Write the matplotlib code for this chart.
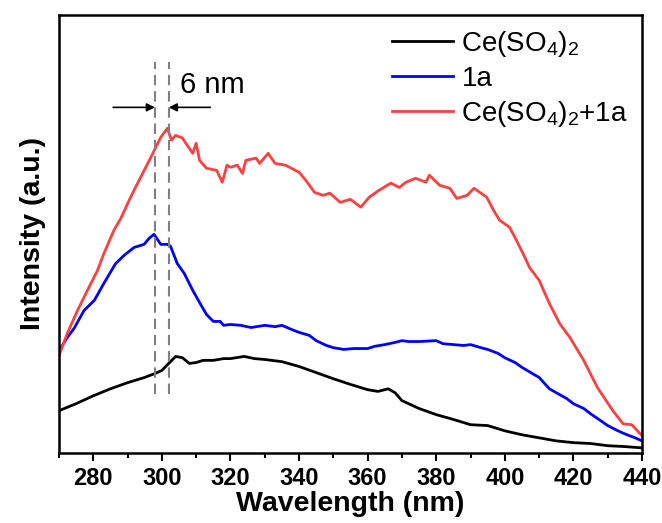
import numpy as np
import matplotlib
matplotlib.use('Agg')
import matplotlib.pyplot as plt

plt.rcParams['font.family'] = ['Liberation Sans', 'DejaVu Sans']
plt.rcParams['mathtext.fontset'] = 'custom'
plt.rcParams['mathtext.rm'] = 'Liberation Sans'
plt.rcParams['mathtext.it'] = 'Liberation Sans:italic'
plt.rcParams['mathtext.bf'] = 'Liberation Sans:bold'

# Emission spectra (intensity in arbitrary units)
wl_ce = [270, 275, 280, 285, 290, 295, 298, 300, 302, 304, 306, 308, 310, 312, 315, 318, 320, 324,
         327, 330, 335, 340, 345, 350, 355, 360, 363, 366, 368, 370, 375, 380, 385, 390, 395, 400,
         405, 410, 415, 420, 425, 430, 435, 440]
int_ce = [9.6, 11.2, 13.0, 14.6, 16.0, 17.2, 18.1, 18.8, 20.4, 22.0, 21.7, 20.4, 20.6, 21.1, 21.1,
          21.5, 21.5, 22.0, 21.5, 21.3, 20.8, 19.7, 18.3, 16.9, 15.6, 14.4, 14.0, 14.6, 13.7, 11.9,
          10.1, 8.7, 7.6, 6.4, 6.2, 5.0, 4.1, 3.4, 2.7, 2.3, 2.1, 1.6, 1.4, 1.1]

wl_1a = [270, 272.4, 274.4, 277.3, 280.3, 283.1, 286.5, 289, 291.9, 294.8, 296.3, 297.7, 299.7,
         301.6, 302.5, 304.5, 306.5, 309, 311, 313, 315, 317, 318, 320, 323, 326, 330, 333, 335,
         338, 340, 343, 345, 348, 350, 353, 356, 360, 362, 365, 368, 370, 372, 375, 380, 382, 385,
         388, 390, 393, 395, 398, 400, 403, 405, 408, 410, 413, 415, 418, 420, 423, 425, 428, 430,
         433, 435, 438, 440]
int_1a = [23.3, 26.3, 28.4, 32.5, 34.8, 38.7, 43.2, 45.1, 46.9, 47.6, 49.0, 49.9, 47.6, 47.6, 47.2,
          43.2, 41.0, 37.1, 34.3, 31.6, 30.0, 30.0, 29.1, 29.3, 29.1, 28.6, 29.1, 28.8, 29.1, 28.1,
          27.5, 26.8, 25.6, 24.5, 24.0, 23.6, 23.8, 23.8, 24.3, 24.7, 25.2, 25.6, 25.4, 25.4, 25.6,
          24.9, 24.7, 24.5, 24.7, 24.0, 23.6, 22.7, 21.7, 20.6, 19.5, 18.1, 17.2, 14.6, 13.7, 12.4,
          11.2, 10.1, 8.9, 7.3, 6.2, 5.0, 4.3, 3.4, 2.7]

wl_mix = [270, 272.4, 275.4, 278.3, 281.2, 283.1, 286, 288, 290.9, 293.8, 296.8, 299.7, 301.6,
          302.8, 304, 306, 307, 309, 310, 311, 313, 316, 317.6, 319, 320, 322, 323.5, 324.5, 327.5,
          328.5, 331, 333, 336, 340, 342, 344.5, 347, 349, 352, 355, 358, 360.5, 363.4, 366.8,
          369.2, 371.2, 374, 377, 378, 381, 384, 386, 389, 391, 394.7, 396.7, 398.5, 401.4, 403.4,
          406, 407.2, 410, 413, 416, 419, 423, 427, 431.5, 434.5, 437, 440]
int_mix = [22.2, 27.2, 32.5, 37.1, 41.6, 45.5, 50.8, 53.5, 58.4, 62.9, 67.5, 72.1, 74.1, 71.4, 72.5,
           71.9, 70.7, 68.4, 70.7, 66.8, 65.0, 64.5, 61.8, 65.7, 65.2, 65.7, 63.8, 66.8, 67.3, 66.1,
           68.4, 66.1, 65.7, 64.1, 62.2, 59.5, 58.8, 59.3, 57.2, 57.9, 56.1, 58.4, 60.0, 61.6, 60.6,
           61.8, 62.7, 61.8, 63.4, 61.1, 60.4, 58.1, 58.8, 60.4, 58.4, 55.4, 53.1, 51.5, 48.5, 44.4,
           42.3, 39.4, 34.1, 29.5, 26.3, 21.1, 14.9, 9.6, 6.6, 6.4, 3.9]

peak_1a = 298
peak_mix = 302

fig = plt.figure(figsize=(6.62, 5.23), dpi=100)
ax = fig.add_axes([0.0891, 0.1344, 0.8807, 0.8369])

ax.plot(wl_ce, int_ce, color='black', lw=2, label='Ce(SO$_4$)$_2$')
ax.plot(wl_1a, int_1a, color='#0000FF', lw=2, label='1a')
ax.plot(wl_mix, int_mix, color='#FF4040', lw=2, label='Ce(SO$_4$)$_2$+1a')

# peak shift markers
for p in (peak_1a, peak_mix):
    ax.plot([p, p], [13.5, 89.2], color='#808080', lw=1.5, ls=(0, (5, 2.8)))
ax.annotate('', xy=(peak_1a, 78.9), xytext=(285.8, 78.9),
            arrowprops=dict(arrowstyle='-|>', color='black', lw=1.2, mutation_scale=12,
                            shrinkA=0, shrinkB=0))
ax.annotate('', xy=(peak_mix, 78.9), xytext=(314.1, 78.9),
            arrowprops=dict(arrowstyle='-|>', color='black', lw=1.2, mutation_scale=12,
                            shrinkA=0, shrinkB=0))
ax.text(305.3, 82.1, '6 nm', fontsize=21, ha='left', va='baseline')

ax.set_xlim(270, 440)
ax.set_ylim(0, 100)
ax.set_xticks(np.arange(280, 441, 20))
ax.set_xticks(np.arange(270, 441, 10), minor=True)
ax.set_yticks([])
ax.tick_params(axis='x', which='major', direction='out', length=6, width=1.5, labelsize=17, pad=4)
ax.tick_params(axis='x', which='minor', direction='out', length=3.5, width=1.5)
for lbl in ax.get_xticklabels():
    lbl.set_fontweight('bold')
for s in ax.spines.values():
    s.set_linewidth(1.8)

ax.set_xlabel('Wavelength (nm)', fontsize=20.5, fontweight='bold', labelpad=1)
ax.set_ylabel('Intensity (a.u.)', fontsize=20.5, fontweight='bold', labelpad=9)

ax.legend(loc='upper right', frameon=False, fontsize=20, handlelength=2.2, handletextpad=0.3,
          labelspacing=0.25, borderaxespad=0.1)

fig.savefig('out.png', dpi=100)
